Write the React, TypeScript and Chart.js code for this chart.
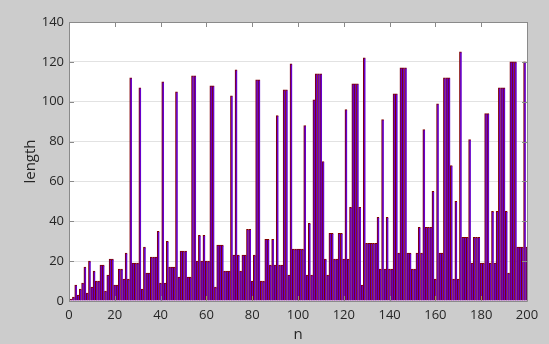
import React, { useEffect, useRef } from "react";
import { Chart, registerables } from "chart.js";

Chart.register(...registerables);

// Collatz sequence length for n = 1..200
const lengths: number[] = [
  1, 2, 8, 3, 6, 9, 17, 4, 20, 7,
  15, 10, 10, 18, 18, 5, 13, 21, 21, 8,
  8, 16, 16, 11, 24, 11, 112, 19, 19, 19,
  107, 6, 27, 14, 14, 22, 22, 22, 35, 9,
  110, 9, 30, 17, 17, 17, 105, 12, 25, 25,
  25, 12, 12, 113, 113, 20, 33, 20, 33, 20,
  20, 108, 108, 7, 28, 28, 28, 15, 15, 15,
  103, 23, 116, 23, 15, 23, 23, 36, 36, 10,
  23, 111, 111, 10, 10, 31, 31, 18, 31, 18,
  93, 18, 18, 106, 106, 13, 119, 26, 26, 26,
  26, 26, 88, 13, 39, 13, 101, 114, 114, 114,
  70, 21, 13, 34, 34, 21, 21, 34, 34, 21,
  96, 21, 47, 109, 109, 109, 47, 8, 122, 29,
  29, 29, 29, 29, 42, 16, 91, 16, 42, 16,
  16, 104, 104, 24, 117, 117, 117, 24, 24, 16,
  16, 24, 37, 24, 86, 37, 37, 37, 55, 11,
  99, 24, 24, 112, 112, 112, 68, 11, 50, 11,
  125, 32, 32, 32, 81, 19, 32, 32, 32, 19,
  19, 94, 94, 19, 45, 19, 45, 107, 107, 107,
  45, 14, 120, 120, 120, 27, 27, 27, 120, 27,
];
const nValues: number[] = lengths.map((_, i) => i + 1);
const xTicks: number[] = [0, 20, 40, 60, 80, 100, 120, 140, 160, 180, 200];
const yTicks: number[] = [0, 20, 40, 60, 80, 100, 120, 140];

const FONT = "'Open Sans', 'Noto Sans', sans-serif";

const boxPlugin = {
  id: "boxPlugin",
  beforeDraw(chart: any) {
    const { ctx, chartArea } = chart;
    const { left, right, top, bottom } = chartArea;
    ctx.save();
    ctx.fillStyle = "#ffffff";
    ctx.fillRect(left, top, right - left, bottom - top);
    ctx.restore();
  },
  afterDatasetsDraw(chart: any) {
    const { ctx, chartArea } = chart;
    const { left, right, top, bottom } = chartArea;
    ctx.save();
    ctx.strokeStyle = "#8a8a8a";
    ctx.lineWidth = 1;
    ctx.beginPath();
    ctx.moveTo(left + 0.5, top + 0.5);
    ctx.lineTo(right + 0.5, top + 0.5);
    ctx.lineTo(right + 0.5, bottom + 0.5);
    ctx.lineTo(left + 0.5, bottom + 0.5);
    ctx.closePath();
    ctx.stroke();
    const ys = chart.scales.y;
    const xs = chart.scales.x;
    ctx.beginPath();
    yTicks.forEach((v) => {
      const py = Math.round(ys.getPixelForValue(v)) + 0.5;
      ctx.moveTo(left, py);
      ctx.lineTo(left + 5, py);
      ctx.moveTo(right, py);
      ctx.lineTo(right - 5, py);
    });
    xTicks.forEach((v) => {
      const px = Math.round(xs.getPixelForValue(v)) + 0.5;
      ctx.moveTo(px, bottom);
      ctx.lineTo(px, bottom - 5);
      ctx.moveTo(px, top);
      ctx.lineTo(px, top + 5);
    });
    ctx.stroke();
    ctx.restore();
  },
};

export default function App() {
  const ref = useRef<HTMLCanvasElement | null>(null);
  useEffect(() => {
    document.body.style.margin = "0";
    if (!ref.current) return;
    const chart = new Chart(ref.current, {
      type: "bar",
      data: {
        datasets: [
          {
            data: nValues.map((n, i) => ({ x: n, y: lengths[i] })),
            backgroundColor: "rgb(102,0,204)",
            borderColor: "rgb(128,0,0)",
            borderWidth: { left: 1, top: 1, right: 0, bottom: 0 },
            borderSkipped: false,
            barPercentage: 1,
            categoryPercentage: 1,
          },
        ],
      },
      options: {
        animation: false,
        responsive: false,
        devicePixelRatio: 1,
        layout: { padding: { top: 22, right: 22, left: 0, bottom: 0 } },
        plugins: { legend: { display: false }, tooltip: { enabled: false } },
        scales: {
          x: {
            type: "linear",
            min: 0,
            max: 200,
            offset: false,
            afterFit: (s: any) => {
              s.height = 43;
            },
            afterBuildTicks: (s: any) => {
              s.ticks = xTicks.map((v) => ({ value: v }));
            },
            grid: { display: false, drawTicks: false, offset: false },
            border: { display: false },
            ticks: {
              padding: 6,
              color: "#262626",
              font: { family: FONT, size: 13 },
              maxRotation: 0,
            },
            title: {
              display: true,
              text: "n",
              color: "#262626",
              font: { family: FONT, size: 15 },
              padding: { top: 0, bottom: 0 },
            },
          },
          y: {
            min: 0,
            max: 140,
            afterFit: (s: any) => {
              s.width = 69;
            },
            afterBuildTicks: (s: any) => {
              s.ticks = yTicks.map((v) => ({ value: v }));
            },
            grid: { color: "#e2e2e2", drawTicks: false },
            border: { display: false },
            ticks: {
              padding: 5,
              color: "#262626",
              font: { family: FONT, size: 13 },
            },
            title: {
              display: true,
              text: "length",
              color: "#262626",
              font: { family: FONT, size: 15 },
              padding: { top: 22, bottom: 0 },
            },
          },
        },
      },
      plugins: [boxPlugin],
    });
    return () => chart.destroy();
  }, []);
  return (
    <div
      style={{
        position: "absolute",
        left: 0,
        top: 0,
        width: 549,
        height: 344,
        background: "#cccccc",
      }}
    >
      <canvas ref={ref} width={549} height={344} style={{ width: 549, height: 344, display: "block" }} />
    </div>
  );
}
